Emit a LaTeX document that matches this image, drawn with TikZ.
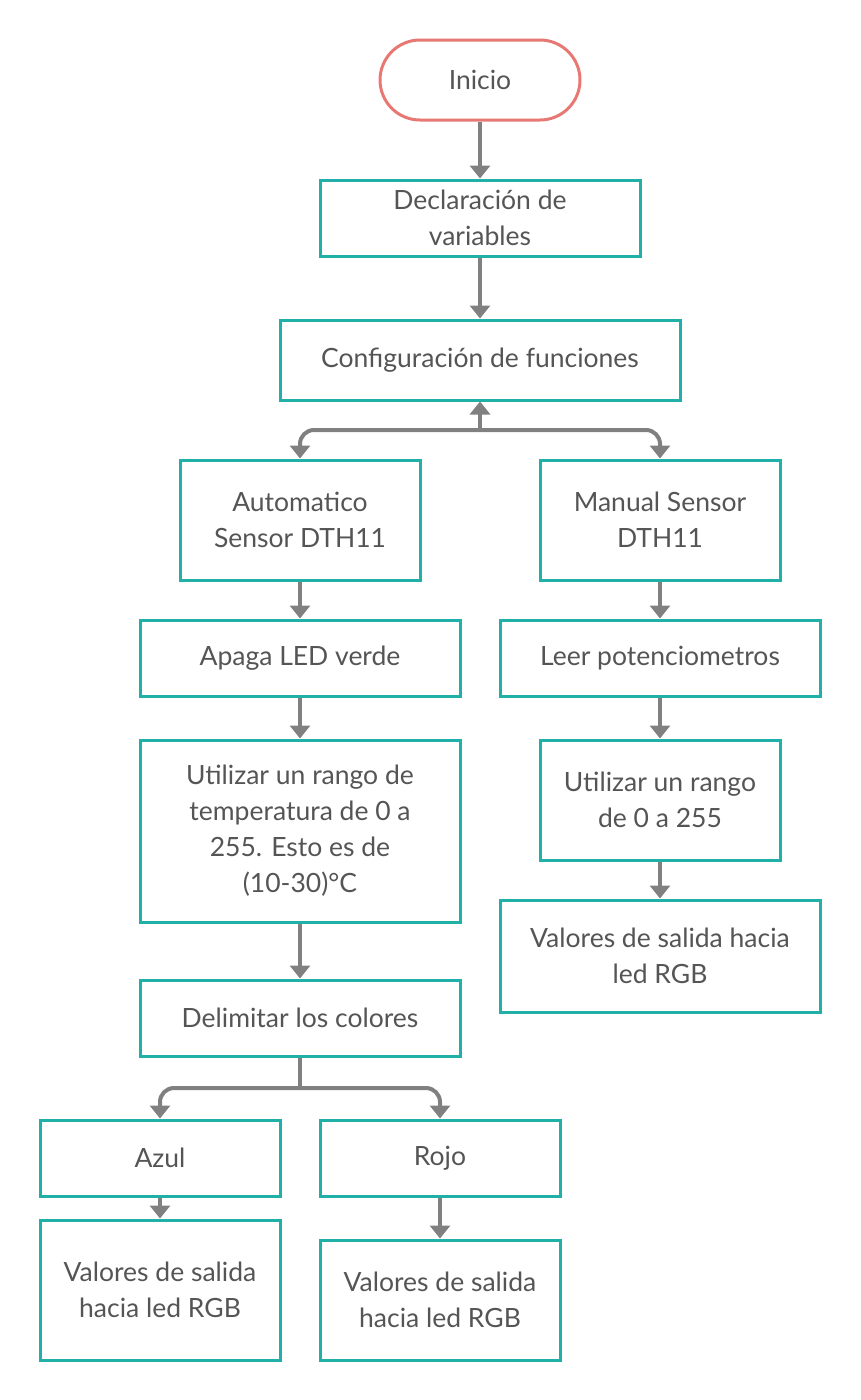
\documentclass[tikz,border=0pt]{standalone}
\usepackage{fontspec}
\setmainfont{Lato}
\usetikzlibrary{arrows.meta}
\definecolor{boxline}{RGB}{32,176,168}
\definecolor{startline}{RGB}{232,120,116}
\definecolor{flow}{RGB}{128,128,128}
\definecolor{txt}{RGB}{85,85,85}

\tikzset{
  box/.style={draw=boxline,line width=3pt,fill=white,align=center,
    text=txt,font=\fontsize{26.5}{36}\selectfont,inner sep=0pt},
  start/.style={box,draw=startline,rounded corners=40pt},
  arr/.style={draw=flow,line width=4pt,-{Triangle[length=13pt,width=20pt]}},
  link/.style={draw=flow,line width=4pt,rounded corners=14pt},
}

\begin{document}
\begin{tikzpicture}[x=1pt,y=-1pt]
  \useasboundingbox (0,0) rectangle (860,1400);

  % main column
  \node[start,minimum width=200pt,minimum height=80pt] (inicio) at (480,80) {Inicio};
  \node[box,minimum width=320pt,minimum height=76pt] (decl) at (480,218) {Declaración de\\variables};
  \node[box,minimum width=400pt,minimum height=80pt] (conf) at (480,360) {Configuración de funciones};

  % automatic branch
  \node[box,minimum width=240pt,minimum height=120pt] (autom) at (300,520) {Automatico\\Sensor DTH11};
  \node[box,minimum width=320pt,minimum height=76pt] (apaga) at (300,658) {Apaga LED verde};
  \node[box,minimum width=320pt,minimum height=182pt] (rangoA) at (300,831) {Utilizar un rango de\\temperatura de 0 a\\255. Esto es de\\(10-30)°C};
  \node[box,minimum width=320pt,minimum height=76pt] (delim) at (300,1018) {Delimitar los colores};
  \node[box,minimum width=240pt,minimum height=76pt] (azul) at (160,1158) {Azul};
  \node[box,minimum width=240pt,minimum height=76pt] (rojo) at (440,1158) {Rojo};
  \node[box,minimum width=240pt,minimum height=140pt] (salAzul) at (160,1290) {Valores de salida\\hacia led RGB};
  \node[box,minimum width=240pt,minimum height=120pt] (salRojo) at (440,1300) {Valores de salida\\hacia led RGB};

  % manual branch
  \node[box,minimum width=240pt,minimum height=120pt] (manual) at (660,520) {Manual Sensor\\DTH11};
  \node[box,minimum width=320pt,minimum height=76pt] (leer) at (660,658) {Leer potenciometros};
  \node[box,minimum width=240pt,minimum height=120pt] (rangoM) at (660,800) {Utilizar un rango\\de 0 a 255};
  \node[box,minimum width=320pt,minimum height=112pt] (salM) at (660,956) {Valores de salida hacia\\led RGB};

  % connectors
  \draw[arr] (inicio) -- (decl);
  \draw[arr] (decl) -- (conf);
  \coordinate (splitA) at (480,430);
  \draw[arr] (splitA) -- (conf);
  \draw[link,-{Triangle[length=13pt,width=20pt]}] (splitA) -| (autom);
  \draw[link,-{Triangle[length=13pt,width=20pt]}] (splitA) -| (manual);
  \draw[arr] (autom) -- (apaga);
  \draw[arr] (apaga) -- (rangoA);
  \draw[arr] (rangoA) -- (delim);
  \coordinate (splitB) at (300,1088);
  \draw[link] (delim) -- (splitB);
  \draw[link,-{Triangle[length=13pt,width=20pt]}] (splitB) -| (azul);
  \draw[link,-{Triangle[length=13pt,width=20pt]}] (splitB) -| (rojo);
  \draw[arr] (azul) -- (salAzul);
  \draw[arr] (rojo) -- (salRojo);
  \draw[arr] (manual) -- (leer);
  \draw[arr] (leer) -- (rangoM);
  \draw[arr] (rangoM) -- (salM);

\end{tikzpicture}
\end{document}
